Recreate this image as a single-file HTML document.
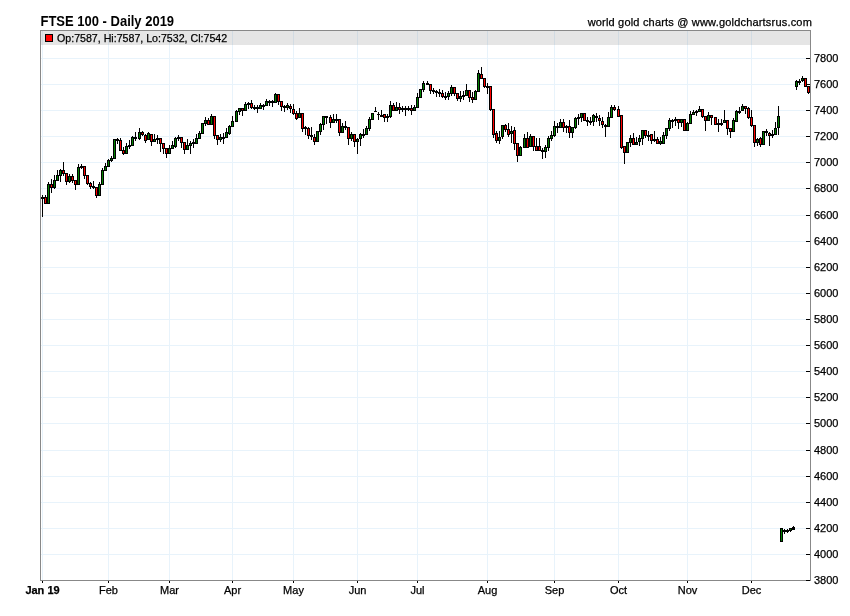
<!DOCTYPE html>
<html><head><meta charset="utf-8"><title>FTSE 100 - Daily 2019</title>
<style>
html,body{margin:0;padding:0;background:#fff;width:850px;height:616px;overflow:hidden}
svg{display:block}
text{font-family:"Liberation Sans",Arial,sans-serif;fill:#000;stroke:#000;stroke-width:0.25px}
.title{font-size:13px;font-weight:bold;stroke-width:0}
.cr{font-size:11px;letter-spacing:0.19px}
.hd{font-size:10.63px}
.ax{font-size:11px}
.axb{font-size:11px;font-weight:bold}
</style></head><body>
<svg width="850" height="616" viewBox="0 0 850 616" shape-rendering="crispEdges"><rect x="42" y="31" width="1" height="549" fill="#e8f3fb"/>
<rect x="108" y="31" width="1" height="549" fill="#e8f3fb"/>
<rect x="169" y="31" width="1" height="549" fill="#e8f3fb"/>
<rect x="232" y="31" width="1" height="549" fill="#e8f3fb"/>
<rect x="293" y="31" width="1" height="549" fill="#e8f3fb"/>
<rect x="357" y="31" width="1" height="549" fill="#e8f3fb"/>
<rect x="417" y="31" width="1" height="549" fill="#e8f3fb"/>
<rect x="487" y="31" width="1" height="549" fill="#e8f3fb"/>
<rect x="554" y="31" width="1" height="549" fill="#e8f3fb"/>
<rect x="618" y="31" width="1" height="549" fill="#e8f3fb"/>
<rect x="687" y="31" width="1" height="549" fill="#e8f3fb"/>
<rect x="751" y="31" width="1" height="549" fill="#e8f3fb"/>
<rect x="41" y="31" width="769" height="14" fill="#808080" fill-opacity="0.205"/>
<rect x="41" y="554" width="765" height="1" fill="#e8f3fb"/>
<rect x="41" y="528" width="765" height="1" fill="#e8f3fb"/>
<rect x="41" y="502" width="765" height="1" fill="#e8f3fb"/>
<rect x="41" y="476" width="765" height="1" fill="#e8f3fb"/>
<rect x="41" y="450" width="765" height="1" fill="#e8f3fb"/>
<rect x="41" y="423" width="765" height="1" fill="#e8f3fb"/>
<rect x="41" y="397" width="765" height="1" fill="#e8f3fb"/>
<rect x="41" y="371" width="765" height="1" fill="#e8f3fb"/>
<rect x="41" y="345" width="765" height="1" fill="#e8f3fb"/>
<rect x="41" y="319" width="765" height="1" fill="#e8f3fb"/>
<rect x="41" y="293" width="765" height="1" fill="#e8f3fb"/>
<rect x="41" y="267" width="765" height="1" fill="#e8f3fb"/>
<rect x="41" y="241" width="765" height="1" fill="#e8f3fb"/>
<rect x="41" y="215" width="765" height="1" fill="#e8f3fb"/>
<rect x="41" y="188" width="765" height="1" fill="#e8f3fb"/>
<rect x="41" y="162" width="765" height="1" fill="#e8f3fb"/>
<rect x="41" y="136" width="765" height="1" fill="#e8f3fb"/>
<rect x="41" y="110" width="765" height="1" fill="#e8f3fb"/>
<rect x="41" y="84" width="765" height="1" fill="#e8f3fb"/>
<rect x="41" y="58" width="765" height="1" fill="#e8f3fb"/>
<rect x="42" y="195" width="1" height="22" fill="#000"/>
<rect x="41" y="197" width="3" height="2" fill="#000"/>
<rect x="45" y="195" width="1" height="9" fill="#000"/>
<rect x="44" y="197" width="3" height="7" fill="#000"/>
<rect x="45" y="198" width="1" height="5" fill="#ff0000"/>
<rect x="48" y="182" width="1" height="22" fill="#000"/>
<rect x="47" y="184" width="3" height="20" fill="#000"/>
<rect x="48" y="185" width="1" height="18" fill="#008000"/>
<rect x="51" y="179" width="1" height="14" fill="#000"/>
<rect x="50" y="184" width="3" height="4" fill="#000"/>
<rect x="51" y="185" width="1" height="2" fill="#ff0000"/>
<rect x="54" y="175" width="1" height="14" fill="#000"/>
<rect x="53" y="180" width="3" height="8" fill="#000"/>
<rect x="54" y="181" width="1" height="6" fill="#008000"/>
<rect x="57" y="170" width="1" height="11" fill="#000"/>
<rect x="56" y="175" width="3" height="6" fill="#000"/>
<rect x="57" y="176" width="1" height="4" fill="#008000"/>
<rect x="60" y="169" width="1" height="13" fill="#000"/>
<rect x="59" y="170" width="3" height="6" fill="#000"/>
<rect x="60" y="171" width="1" height="4" fill="#008000"/>
<rect x="63" y="162" width="1" height="14" fill="#000"/>
<rect x="62" y="170" width="3" height="4" fill="#000"/>
<rect x="63" y="171" width="1" height="2" fill="#ff0000"/>
<rect x="66" y="173" width="1" height="12" fill="#000"/>
<rect x="65" y="173" width="3" height="9" fill="#000"/>
<rect x="66" y="174" width="1" height="7" fill="#ff0000"/>
<rect x="69" y="174" width="1" height="9" fill="#000"/>
<rect x="68" y="176" width="3" height="6" fill="#000"/>
<rect x="69" y="177" width="1" height="4" fill="#008000"/>
<rect x="72" y="174" width="1" height="9" fill="#000"/>
<rect x="71" y="176" width="3" height="5" fill="#000"/>
<rect x="72" y="177" width="1" height="3" fill="#ff0000"/>
<rect x="75" y="180" width="1" height="10" fill="#000"/>
<rect x="74" y="180" width="3" height="5" fill="#000"/>
<rect x="75" y="181" width="1" height="3" fill="#ff0000"/>
<rect x="78" y="164" width="1" height="21" fill="#000"/>
<rect x="77" y="167" width="3" height="18" fill="#000"/>
<rect x="78" y="168" width="1" height="16" fill="#008000"/>
<rect x="81" y="164" width="1" height="5" fill="#000"/>
<rect x="80" y="166" width="3" height="2" fill="#000"/>
<rect x="84" y="166" width="1" height="13" fill="#000"/>
<rect x="83" y="166" width="3" height="10" fill="#000"/>
<rect x="84" y="167" width="1" height="8" fill="#ff0000"/>
<rect x="87" y="175" width="1" height="10" fill="#000"/>
<rect x="86" y="175" width="3" height="9" fill="#000"/>
<rect x="87" y="176" width="1" height="7" fill="#ff0000"/>
<rect x="90" y="182" width="1" height="7" fill="#000"/>
<rect x="89" y="183" width="3" height="4" fill="#000"/>
<rect x="90" y="184" width="1" height="2" fill="#ff0000"/>
<rect x="93" y="181" width="1" height="8" fill="#000"/>
<rect x="92" y="186" width="3" height="2" fill="#000"/>
<rect x="96" y="187" width="1" height="11" fill="#000"/>
<rect x="95" y="187" width="3" height="9" fill="#000"/>
<rect x="96" y="188" width="1" height="7" fill="#ff0000"/>
<rect x="99" y="182" width="1" height="14" fill="#000"/>
<rect x="98" y="184" width="3" height="12" fill="#000"/>
<rect x="99" y="185" width="1" height="10" fill="#008000"/>
<rect x="102" y="168" width="1" height="17" fill="#000"/>
<rect x="101" y="170" width="3" height="15" fill="#000"/>
<rect x="102" y="171" width="1" height="13" fill="#008000"/>
<rect x="105" y="163" width="1" height="8" fill="#000"/>
<rect x="104" y="166" width="3" height="5" fill="#000"/>
<rect x="105" y="167" width="1" height="3" fill="#008000"/>
<rect x="108" y="159" width="1" height="8" fill="#000"/>
<rect x="107" y="160" width="3" height="7" fill="#000"/>
<rect x="108" y="161" width="1" height="5" fill="#008000"/>
<rect x="111" y="156" width="1" height="6" fill="#000"/>
<rect x="110" y="158" width="3" height="3" fill="#000"/>
<rect x="111" y="159" width="1" height="1" fill="#008000"/>
<rect x="114" y="139" width="1" height="20" fill="#000"/>
<rect x="113" y="139" width="3" height="20" fill="#000"/>
<rect x="114" y="140" width="1" height="18" fill="#008000"/>
<rect x="117" y="138" width="1" height="6" fill="#000"/>
<rect x="116" y="139" width="3" height="2" fill="#000"/>
<rect x="120" y="138" width="1" height="13" fill="#000"/>
<rect x="119" y="140" width="3" height="11" fill="#000"/>
<rect x="120" y="141" width="1" height="9" fill="#ff0000"/>
<rect x="123" y="147" width="1" height="8" fill="#000"/>
<rect x="122" y="150" width="3" height="4" fill="#000"/>
<rect x="123" y="151" width="1" height="2" fill="#ff0000"/>
<rect x="126" y="143" width="1" height="11" fill="#000"/>
<rect x="125" y="146" width="3" height="8" fill="#000"/>
<rect x="126" y="147" width="1" height="6" fill="#008000"/>
<rect x="129" y="140" width="1" height="9" fill="#000"/>
<rect x="128" y="145" width="3" height="2" fill="#000"/>
<rect x="132" y="136" width="1" height="10" fill="#000"/>
<rect x="131" y="137" width="3" height="9" fill="#000"/>
<rect x="132" y="138" width="1" height="7" fill="#008000"/>
<rect x="135" y="132" width="1" height="9" fill="#000"/>
<rect x="134" y="137" width="3" height="2" fill="#000"/>
<rect x="139" y="128" width="1" height="12" fill="#000"/>
<rect x="138" y="132" width="3" height="7" fill="#000"/>
<rect x="139" y="133" width="1" height="5" fill="#008000"/>
<rect x="142" y="131" width="1" height="5" fill="#000"/>
<rect x="141" y="132" width="3" height="3" fill="#000"/>
<rect x="142" y="133" width="1" height="1" fill="#ff0000"/>
<rect x="145" y="134" width="1" height="9" fill="#000"/>
<rect x="144" y="135" width="3" height="6" fill="#000"/>
<rect x="145" y="136" width="1" height="4" fill="#ff0000"/>
<rect x="148" y="132" width="1" height="8" fill="#000"/>
<rect x="147" y="133" width="3" height="7" fill="#000"/>
<rect x="148" y="134" width="1" height="5" fill="#008000"/>
<rect x="151" y="134" width="1" height="12" fill="#000"/>
<rect x="150" y="134" width="3" height="8" fill="#000"/>
<rect x="151" y="135" width="1" height="6" fill="#ff0000"/>
<rect x="154" y="134" width="1" height="8" fill="#000"/>
<rect x="153" y="139" width="3" height="3" fill="#000"/>
<rect x="154" y="140" width="1" height="1" fill="#008000"/>
<rect x="157" y="135" width="1" height="9" fill="#000"/>
<rect x="156" y="138" width="3" height="2" fill="#000"/>
<rect x="160" y="138" width="1" height="14" fill="#000"/>
<rect x="159" y="138" width="3" height="6" fill="#000"/>
<rect x="160" y="139" width="1" height="4" fill="#ff0000"/>
<rect x="163" y="143" width="1" height="11" fill="#000"/>
<rect x="162" y="143" width="3" height="6" fill="#000"/>
<rect x="163" y="144" width="1" height="4" fill="#ff0000"/>
<rect x="166" y="148" width="1" height="10" fill="#000"/>
<rect x="165" y="148" width="3" height="6" fill="#000"/>
<rect x="166" y="149" width="1" height="4" fill="#ff0000"/>
<rect x="169" y="145" width="1" height="9" fill="#000"/>
<rect x="168" y="148" width="3" height="6" fill="#000"/>
<rect x="169" y="149" width="1" height="4" fill="#008000"/>
<rect x="172" y="141" width="1" height="8" fill="#000"/>
<rect x="171" y="145" width="3" height="4" fill="#000"/>
<rect x="172" y="146" width="1" height="2" fill="#008000"/>
<rect x="175" y="137" width="1" height="11" fill="#000"/>
<rect x="174" y="138" width="3" height="9" fill="#000"/>
<rect x="175" y="139" width="1" height="7" fill="#008000"/>
<rect x="178" y="135" width="1" height="6" fill="#000"/>
<rect x="177" y="137" width="3" height="2" fill="#000"/>
<rect x="181" y="137" width="1" height="11" fill="#000"/>
<rect x="180" y="137" width="3" height="6" fill="#000"/>
<rect x="181" y="138" width="1" height="4" fill="#ff0000"/>
<rect x="184" y="142" width="1" height="12" fill="#000"/>
<rect x="183" y="142" width="3" height="8" fill="#000"/>
<rect x="184" y="143" width="1" height="6" fill="#ff0000"/>
<rect x="187" y="139" width="1" height="11" fill="#000"/>
<rect x="186" y="145" width="3" height="5" fill="#000"/>
<rect x="187" y="146" width="1" height="3" fill="#008000"/>
<rect x="190" y="141" width="1" height="13" fill="#000"/>
<rect x="189" y="143" width="3" height="3" fill="#000"/>
<rect x="190" y="144" width="1" height="1" fill="#008000"/>
<rect x="193" y="139" width="1" height="9" fill="#000"/>
<rect x="192" y="142" width="3" height="2" fill="#000"/>
<rect x="196" y="134" width="1" height="10" fill="#000"/>
<rect x="195" y="138" width="3" height="6" fill="#000"/>
<rect x="196" y="139" width="1" height="4" fill="#008000"/>
<rect x="199" y="131" width="1" height="8" fill="#000"/>
<rect x="198" y="133" width="3" height="6" fill="#000"/>
<rect x="199" y="134" width="1" height="4" fill="#008000"/>
<rect x="202" y="123" width="1" height="11" fill="#000"/>
<rect x="201" y="123" width="3" height="11" fill="#000"/>
<rect x="202" y="124" width="1" height="9" fill="#008000"/>
<rect x="205" y="117" width="1" height="9" fill="#000"/>
<rect x="204" y="120" width="3" height="4" fill="#000"/>
<rect x="205" y="121" width="1" height="2" fill="#008000"/>
<rect x="208" y="118" width="1" height="7" fill="#000"/>
<rect x="207" y="120" width="3" height="5" fill="#000"/>
<rect x="208" y="121" width="1" height="3" fill="#ff0000"/>
<rect x="211" y="114" width="1" height="11" fill="#000"/>
<rect x="210" y="116" width="3" height="9" fill="#000"/>
<rect x="211" y="117" width="1" height="7" fill="#008000"/>
<rect x="214" y="116" width="1" height="23" fill="#000"/>
<rect x="213" y="116" width="3" height="20" fill="#000"/>
<rect x="214" y="117" width="1" height="18" fill="#ff0000"/>
<rect x="217" y="135" width="1" height="10" fill="#000"/>
<rect x="216" y="135" width="3" height="5" fill="#000"/>
<rect x="217" y="136" width="1" height="3" fill="#ff0000"/>
<rect x="220" y="134" width="1" height="8" fill="#000"/>
<rect x="219" y="137" width="3" height="3" fill="#000"/>
<rect x="220" y="138" width="1" height="1" fill="#008000"/>
<rect x="223" y="133" width="1" height="11" fill="#000"/>
<rect x="222" y="137" width="3" height="2" fill="#000"/>
<rect x="226" y="128" width="1" height="10" fill="#000"/>
<rect x="225" y="132" width="3" height="6" fill="#000"/>
<rect x="226" y="133" width="1" height="4" fill="#008000"/>
<rect x="229" y="125" width="1" height="10" fill="#000"/>
<rect x="228" y="126" width="3" height="8" fill="#000"/>
<rect x="229" y="127" width="1" height="6" fill="#008000"/>
<rect x="232" y="116" width="1" height="11" fill="#000"/>
<rect x="231" y="121" width="3" height="6" fill="#000"/>
<rect x="232" y="122" width="1" height="4" fill="#008000"/>
<rect x="236" y="110" width="1" height="12" fill="#000"/>
<rect x="235" y="111" width="3" height="11" fill="#000"/>
<rect x="236" y="112" width="1" height="9" fill="#008000"/>
<rect x="239" y="108" width="1" height="7" fill="#000"/>
<rect x="238" y="108" width="3" height="4" fill="#000"/>
<rect x="239" y="109" width="1" height="2" fill="#008000"/>
<rect x="242" y="108" width="1" height="8" fill="#000"/>
<rect x="241" y="108" width="3" height="3" fill="#000"/>
<rect x="242" y="109" width="1" height="1" fill="#ff0000"/>
<rect x="245" y="102" width="1" height="9" fill="#000"/>
<rect x="244" y="104" width="3" height="7" fill="#000"/>
<rect x="245" y="105" width="1" height="5" fill="#008000"/>
<rect x="248" y="102" width="1" height="7" fill="#000"/>
<rect x="247" y="103" width="3" height="2" fill="#000"/>
<rect x="251" y="100" width="1" height="9" fill="#000"/>
<rect x="250" y="103" width="3" height="5" fill="#000"/>
<rect x="251" y="104" width="1" height="3" fill="#ff0000"/>
<rect x="254" y="105" width="1" height="5" fill="#000"/>
<rect x="253" y="107" width="3" height="2" fill="#000"/>
<rect x="257" y="105" width="1" height="8" fill="#000"/>
<rect x="256" y="107" width="3" height="2" fill="#000"/>
<rect x="260" y="103" width="1" height="6" fill="#000"/>
<rect x="259" y="105" width="3" height="4" fill="#000"/>
<rect x="260" y="106" width="1" height="2" fill="#008000"/>
<rect x="263" y="104" width="1" height="6" fill="#000"/>
<rect x="262" y="105" width="3" height="2" fill="#000"/>
<rect x="266" y="99" width="1" height="7" fill="#000"/>
<rect x="265" y="101" width="3" height="5" fill="#000"/>
<rect x="266" y="102" width="1" height="3" fill="#008000"/>
<rect x="269" y="100" width="1" height="6" fill="#000"/>
<rect x="268" y="101" width="3" height="2" fill="#000"/>
<rect x="272" y="100" width="1" height="7" fill="#000"/>
<rect x="271" y="101" width="3" height="2" fill="#000"/>
<rect x="275" y="93" width="1" height="10" fill="#000"/>
<rect x="274" y="94" width="3" height="9" fill="#000"/>
<rect x="275" y="95" width="1" height="7" fill="#008000"/>
<rect x="278" y="94" width="1" height="11" fill="#000"/>
<rect x="277" y="94" width="3" height="8" fill="#000"/>
<rect x="278" y="95" width="1" height="6" fill="#ff0000"/>
<rect x="281" y="101" width="1" height="10" fill="#000"/>
<rect x="280" y="101" width="3" height="6" fill="#000"/>
<rect x="281" y="102" width="1" height="4" fill="#ff0000"/>
<rect x="284" y="105" width="1" height="7" fill="#000"/>
<rect x="283" y="106" width="3" height="2" fill="#000"/>
<rect x="287" y="103" width="1" height="7" fill="#000"/>
<rect x="286" y="105" width="3" height="3" fill="#000"/>
<rect x="287" y="106" width="1" height="1" fill="#008000"/>
<rect x="290" y="104" width="1" height="9" fill="#000"/>
<rect x="289" y="106" width="3" height="3" fill="#000"/>
<rect x="290" y="107" width="1" height="1" fill="#ff0000"/>
<rect x="293" y="104" width="1" height="11" fill="#000"/>
<rect x="292" y="109" width="3" height="5" fill="#000"/>
<rect x="293" y="110" width="1" height="3" fill="#ff0000"/>
<rect x="296" y="111" width="1" height="9" fill="#000"/>
<rect x="295" y="113" width="3" height="6" fill="#000"/>
<rect x="296" y="114" width="1" height="4" fill="#ff0000"/>
<rect x="299" y="108" width="1" height="10" fill="#000"/>
<rect x="298" y="113" width="3" height="5" fill="#000"/>
<rect x="299" y="114" width="1" height="3" fill="#008000"/>
<rect x="302" y="113" width="1" height="19" fill="#000"/>
<rect x="301" y="113" width="3" height="16" fill="#000"/>
<rect x="302" y="114" width="1" height="14" fill="#ff0000"/>
<rect x="305" y="126" width="1" height="9" fill="#000"/>
<rect x="304" y="127" width="3" height="2" fill="#000"/>
<rect x="308" y="127" width="1" height="12" fill="#000"/>
<rect x="307" y="128" width="3" height="8" fill="#000"/>
<rect x="308" y="129" width="1" height="6" fill="#ff0000"/>
<rect x="311" y="127" width="1" height="13" fill="#000"/>
<rect x="310" y="135" width="3" height="2" fill="#000"/>
<rect x="314" y="134" width="1" height="11" fill="#000"/>
<rect x="313" y="137" width="3" height="5" fill="#000"/>
<rect x="314" y="138" width="1" height="3" fill="#ff0000"/>
<rect x="317" y="131" width="1" height="11" fill="#000"/>
<rect x="316" y="131" width="3" height="11" fill="#000"/>
<rect x="317" y="132" width="1" height="9" fill="#008000"/>
<rect x="320" y="123" width="1" height="12" fill="#000"/>
<rect x="319" y="124" width="3" height="8" fill="#000"/>
<rect x="320" y="125" width="1" height="6" fill="#008000"/>
<rect x="323" y="116" width="1" height="14" fill="#000"/>
<rect x="322" y="116" width="3" height="9" fill="#000"/>
<rect x="323" y="117" width="1" height="7" fill="#008000"/>
<rect x="326" y="116" width="1" height="8" fill="#000"/>
<rect x="325" y="116" width="3" height="2" fill="#000"/>
<rect x="330" y="115" width="1" height="13" fill="#000"/>
<rect x="329" y="117" width="3" height="6" fill="#000"/>
<rect x="330" y="118" width="1" height="4" fill="#ff0000"/>
<rect x="333" y="114" width="1" height="9" fill="#000"/>
<rect x="332" y="119" width="3" height="4" fill="#000"/>
<rect x="333" y="120" width="1" height="2" fill="#008000"/>
<rect x="336" y="114" width="1" height="9" fill="#000"/>
<rect x="335" y="119" width="3" height="2" fill="#000"/>
<rect x="339" y="119" width="1" height="17" fill="#000"/>
<rect x="338" y="119" width="3" height="14" fill="#000"/>
<rect x="339" y="120" width="1" height="12" fill="#ff0000"/>
<rect x="342" y="123" width="1" height="10" fill="#000"/>
<rect x="341" y="126" width="3" height="7" fill="#000"/>
<rect x="342" y="127" width="1" height="5" fill="#008000"/>
<rect x="345" y="121" width="1" height="9" fill="#000"/>
<rect x="344" y="126" width="3" height="2" fill="#000"/>
<rect x="348" y="127" width="1" height="18" fill="#000"/>
<rect x="347" y="127" width="3" height="12" fill="#000"/>
<rect x="348" y="128" width="1" height="10" fill="#ff0000"/>
<rect x="351" y="132" width="1" height="9" fill="#000"/>
<rect x="350" y="134" width="3" height="5" fill="#000"/>
<rect x="351" y="135" width="1" height="3" fill="#008000"/>
<rect x="354" y="134" width="1" height="13" fill="#000"/>
<rect x="353" y="134" width="3" height="8" fill="#000"/>
<rect x="354" y="135" width="1" height="6" fill="#ff0000"/>
<rect x="357" y="138" width="1" height="16" fill="#000"/>
<rect x="356" y="139" width="3" height="3" fill="#000"/>
<rect x="357" y="140" width="1" height="1" fill="#008000"/>
<rect x="360" y="133" width="1" height="13" fill="#000"/>
<rect x="359" y="134" width="3" height="5" fill="#000"/>
<rect x="360" y="135" width="1" height="3" fill="#008000"/>
<rect x="363" y="129" width="1" height="9" fill="#000"/>
<rect x="362" y="134" width="3" height="2" fill="#000"/>
<rect x="366" y="126" width="1" height="9" fill="#000"/>
<rect x="365" y="128" width="3" height="7" fill="#000"/>
<rect x="366" y="129" width="1" height="5" fill="#008000"/>
<rect x="369" y="117" width="1" height="14" fill="#000"/>
<rect x="368" y="119" width="3" height="10" fill="#000"/>
<rect x="369" y="120" width="1" height="8" fill="#008000"/>
<rect x="372" y="113" width="1" height="7" fill="#000"/>
<rect x="371" y="113" width="3" height="7" fill="#000"/>
<rect x="372" y="114" width="1" height="5" fill="#008000"/>
<rect x="375" y="107" width="1" height="5" fill="#000"/>
<rect x="374" y="111" width="3" height="1" fill="#000"/>
<rect x="378" y="112" width="1" height="8" fill="#000"/>
<rect x="377" y="114" width="3" height="1" fill="#000"/>
<rect x="381" y="110" width="1" height="7" fill="#000"/>
<rect x="380" y="115" width="3" height="2" fill="#000"/>
<rect x="384" y="114" width="1" height="8" fill="#000"/>
<rect x="383" y="114" width="3" height="4" fill="#000"/>
<rect x="384" y="115" width="1" height="2" fill="#ff0000"/>
<rect x="387" y="114" width="1" height="8" fill="#000"/>
<rect x="386" y="116" width="3" height="2" fill="#000"/>
<rect x="390" y="101" width="1" height="17" fill="#000"/>
<rect x="389" y="105" width="3" height="12" fill="#000"/>
<rect x="390" y="106" width="1" height="10" fill="#008000"/>
<rect x="393" y="103" width="1" height="8" fill="#000"/>
<rect x="392" y="105" width="3" height="6" fill="#000"/>
<rect x="393" y="106" width="1" height="4" fill="#ff0000"/>
<rect x="396" y="102" width="1" height="9" fill="#000"/>
<rect x="395" y="107" width="3" height="4" fill="#000"/>
<rect x="396" y="108" width="1" height="2" fill="#008000"/>
<rect x="399" y="103" width="1" height="11" fill="#000"/>
<rect x="398" y="107" width="3" height="3" fill="#000"/>
<rect x="399" y="108" width="1" height="1" fill="#ff0000"/>
<rect x="402" y="106" width="1" height="6" fill="#000"/>
<rect x="401" y="108" width="3" height="2" fill="#000"/>
<rect x="405" y="106" width="1" height="10" fill="#000"/>
<rect x="404" y="108" width="3" height="2" fill="#000"/>
<rect x="408" y="106" width="1" height="5" fill="#000"/>
<rect x="407" y="108" width="3" height="2" fill="#000"/>
<rect x="411" y="105" width="1" height="10" fill="#000"/>
<rect x="410" y="108" width="3" height="3" fill="#000"/>
<rect x="411" y="109" width="1" height="1" fill="#ff0000"/>
<rect x="414" y="105" width="1" height="6" fill="#000"/>
<rect x="413" y="107" width="3" height="4" fill="#000"/>
<rect x="414" y="108" width="1" height="2" fill="#008000"/>
<rect x="417" y="93" width="1" height="15" fill="#000"/>
<rect x="416" y="97" width="3" height="11" fill="#000"/>
<rect x="417" y="98" width="1" height="9" fill="#008000"/>
<rect x="420" y="89" width="1" height="9" fill="#000"/>
<rect x="419" y="89" width="3" height="9" fill="#000"/>
<rect x="420" y="90" width="1" height="7" fill="#008000"/>
<rect x="423" y="81" width="1" height="11" fill="#000"/>
<rect x="422" y="83" width="3" height="7" fill="#000"/>
<rect x="423" y="84" width="1" height="5" fill="#008000"/>
<rect x="427" y="81" width="1" height="4" fill="#000"/>
<rect x="426" y="83" width="3" height="2" fill="#000"/>
<rect x="430" y="84" width="1" height="10" fill="#000"/>
<rect x="429" y="84" width="3" height="7" fill="#000"/>
<rect x="430" y="85" width="1" height="5" fill="#ff0000"/>
<rect x="433" y="88" width="1" height="6" fill="#000"/>
<rect x="432" y="90" width="3" height="2" fill="#000"/>
<rect x="436" y="90" width="1" height="7" fill="#000"/>
<rect x="435" y="91" width="3" height="2" fill="#000"/>
<rect x="439" y="89" width="1" height="8" fill="#000"/>
<rect x="438" y="92" width="3" height="2" fill="#000"/>
<rect x="442" y="90" width="1" height="8" fill="#000"/>
<rect x="441" y="93" width="3" height="4" fill="#000"/>
<rect x="442" y="94" width="1" height="2" fill="#ff0000"/>
<rect x="445" y="92" width="1" height="8" fill="#000"/>
<rect x="444" y="96" width="3" height="2" fill="#000"/>
<rect x="448" y="91" width="1" height="9" fill="#000"/>
<rect x="447" y="93" width="3" height="4" fill="#000"/>
<rect x="448" y="94" width="1" height="2" fill="#008000"/>
<rect x="451" y="85" width="1" height="11" fill="#000"/>
<rect x="450" y="87" width="3" height="7" fill="#000"/>
<rect x="451" y="88" width="1" height="5" fill="#008000"/>
<rect x="454" y="87" width="1" height="9" fill="#000"/>
<rect x="453" y="87" width="3" height="7" fill="#000"/>
<rect x="454" y="88" width="1" height="5" fill="#ff0000"/>
<rect x="457" y="93" width="1" height="8" fill="#000"/>
<rect x="456" y="93" width="3" height="6" fill="#000"/>
<rect x="457" y="94" width="1" height="4" fill="#ff0000"/>
<rect x="460" y="91" width="1" height="11" fill="#000"/>
<rect x="459" y="96" width="3" height="3" fill="#000"/>
<rect x="460" y="97" width="1" height="1" fill="#008000"/>
<rect x="463" y="91" width="1" height="9" fill="#000"/>
<rect x="462" y="95" width="3" height="2" fill="#000"/>
<rect x="466" y="84" width="1" height="12" fill="#000"/>
<rect x="465" y="90" width="3" height="6" fill="#000"/>
<rect x="466" y="91" width="1" height="4" fill="#008000"/>
<rect x="469" y="90" width="1" height="12" fill="#000"/>
<rect x="468" y="90" width="3" height="8" fill="#000"/>
<rect x="469" y="91" width="1" height="6" fill="#ff0000"/>
<rect x="472" y="92" width="1" height="11" fill="#000"/>
<rect x="471" y="97" width="3" height="3" fill="#000"/>
<rect x="472" y="98" width="1" height="1" fill="#ff0000"/>
<rect x="475" y="90" width="1" height="10" fill="#000"/>
<rect x="474" y="91" width="3" height="9" fill="#000"/>
<rect x="475" y="92" width="1" height="7" fill="#008000"/>
<rect x="478" y="70" width="1" height="22" fill="#000"/>
<rect x="477" y="73" width="3" height="19" fill="#000"/>
<rect x="478" y="74" width="1" height="17" fill="#008000"/>
<rect x="481" y="67" width="1" height="12" fill="#000"/>
<rect x="480" y="74" width="3" height="5" fill="#000"/>
<rect x="481" y="75" width="1" height="3" fill="#ff0000"/>
<rect x="484" y="78" width="1" height="10" fill="#000"/>
<rect x="483" y="78" width="3" height="9" fill="#000"/>
<rect x="484" y="79" width="1" height="7" fill="#ff0000"/>
<rect x="487" y="83" width="1" height="11" fill="#000"/>
<rect x="486" y="86" width="3" height="2" fill="#000"/>
<rect x="490" y="86" width="1" height="25" fill="#000"/>
<rect x="489" y="86" width="3" height="24" fill="#000"/>
<rect x="490" y="87" width="1" height="22" fill="#ff0000"/>
<rect x="493" y="109" width="1" height="29" fill="#000"/>
<rect x="492" y="109" width="3" height="26" fill="#000"/>
<rect x="493" y="110" width="1" height="24" fill="#ff0000"/>
<rect x="496" y="131" width="1" height="12" fill="#000"/>
<rect x="495" y="133" width="3" height="8" fill="#000"/>
<rect x="496" y="134" width="1" height="6" fill="#ff0000"/>
<rect x="499" y="131" width="1" height="13" fill="#000"/>
<rect x="498" y="137" width="3" height="4" fill="#000"/>
<rect x="499" y="138" width="1" height="2" fill="#008000"/>
<rect x="502" y="125" width="1" height="14" fill="#000"/>
<rect x="501" y="125" width="3" height="12" fill="#000"/>
<rect x="502" y="126" width="1" height="10" fill="#008000"/>
<rect x="505" y="124" width="1" height="8" fill="#000"/>
<rect x="504" y="125" width="3" height="5" fill="#000"/>
<rect x="505" y="126" width="1" height="3" fill="#ff0000"/>
<rect x="508" y="123" width="1" height="14" fill="#000"/>
<rect x="507" y="129" width="3" height="6" fill="#000"/>
<rect x="508" y="130" width="1" height="4" fill="#ff0000"/>
<rect x="511" y="126" width="1" height="17" fill="#000"/>
<rect x="510" y="131" width="3" height="3" fill="#000"/>
<rect x="511" y="132" width="1" height="1" fill="#008000"/>
<rect x="514" y="127" width="1" height="23" fill="#000"/>
<rect x="513" y="130" width="3" height="14" fill="#000"/>
<rect x="514" y="131" width="1" height="12" fill="#ff0000"/>
<rect x="517" y="143" width="1" height="19" fill="#000"/>
<rect x="516" y="143" width="3" height="13" fill="#000"/>
<rect x="517" y="144" width="1" height="11" fill="#ff0000"/>
<rect x="520" y="146" width="1" height="10" fill="#000"/>
<rect x="519" y="147" width="3" height="9" fill="#000"/>
<rect x="520" y="148" width="1" height="7" fill="#008000"/>
<rect x="524" y="134" width="1" height="14" fill="#000"/>
<rect x="523" y="138" width="3" height="10" fill="#000"/>
<rect x="524" y="139" width="1" height="8" fill="#008000"/>
<rect x="527" y="132" width="1" height="16" fill="#000"/>
<rect x="526" y="138" width="3" height="10" fill="#000"/>
<rect x="527" y="139" width="1" height="8" fill="#ff0000"/>
<rect x="530" y="134" width="1" height="13" fill="#000"/>
<rect x="529" y="136" width="3" height="11" fill="#000"/>
<rect x="530" y="137" width="1" height="9" fill="#008000"/>
<rect x="533" y="136" width="1" height="15" fill="#000"/>
<rect x="532" y="136" width="3" height="11" fill="#000"/>
<rect x="533" y="137" width="1" height="9" fill="#ff0000"/>
<rect x="536" y="138" width="1" height="13" fill="#000"/>
<rect x="535" y="146" width="3" height="5" fill="#000"/>
<rect x="536" y="147" width="1" height="3" fill="#ff0000"/>
<rect x="539" y="138" width="1" height="13" fill="#000"/>
<rect x="538" y="146" width="3" height="5" fill="#000"/>
<rect x="539" y="147" width="1" height="3" fill="#ff0000"/>
<rect x="542" y="148" width="1" height="11" fill="#000"/>
<rect x="541" y="150" width="3" height="2" fill="#000"/>
<rect x="545" y="145" width="1" height="13" fill="#000"/>
<rect x="544" y="147" width="3" height="5" fill="#000"/>
<rect x="545" y="148" width="1" height="3" fill="#008000"/>
<rect x="548" y="136" width="1" height="15" fill="#000"/>
<rect x="547" y="138" width="3" height="10" fill="#000"/>
<rect x="548" y="139" width="1" height="8" fill="#008000"/>
<rect x="551" y="131" width="1" height="10" fill="#000"/>
<rect x="550" y="135" width="3" height="4" fill="#000"/>
<rect x="551" y="136" width="1" height="2" fill="#008000"/>
<rect x="554" y="121" width="1" height="16" fill="#000"/>
<rect x="553" y="126" width="3" height="10" fill="#000"/>
<rect x="554" y="127" width="1" height="8" fill="#008000"/>
<rect x="557" y="123" width="1" height="10" fill="#000"/>
<rect x="556" y="126" width="3" height="2" fill="#000"/>
<rect x="560" y="119" width="1" height="9" fill="#000"/>
<rect x="559" y="122" width="3" height="6" fill="#000"/>
<rect x="560" y="123" width="1" height="4" fill="#008000"/>
<rect x="563" y="119" width="1" height="13" fill="#000"/>
<rect x="562" y="122" width="3" height="6" fill="#000"/>
<rect x="563" y="123" width="1" height="4" fill="#ff0000"/>
<rect x="566" y="125" width="1" height="8" fill="#000"/>
<rect x="565" y="126" width="3" height="2" fill="#000"/>
<rect x="569" y="120" width="1" height="18" fill="#000"/>
<rect x="568" y="126" width="3" height="7" fill="#000"/>
<rect x="569" y="127" width="1" height="5" fill="#ff0000"/>
<rect x="572" y="127" width="1" height="11" fill="#000"/>
<rect x="571" y="127" width="3" height="6" fill="#000"/>
<rect x="572" y="128" width="1" height="4" fill="#008000"/>
<rect x="575" y="117" width="1" height="12" fill="#000"/>
<rect x="574" y="118" width="3" height="10" fill="#000"/>
<rect x="575" y="119" width="1" height="8" fill="#008000"/>
<rect x="578" y="114" width="1" height="11" fill="#000"/>
<rect x="577" y="117" width="3" height="2" fill="#000"/>
<rect x="581" y="113" width="1" height="9" fill="#000"/>
<rect x="580" y="113" width="3" height="5" fill="#000"/>
<rect x="581" y="114" width="1" height="3" fill="#008000"/>
<rect x="584" y="113" width="1" height="8" fill="#000"/>
<rect x="583" y="113" width="3" height="8" fill="#000"/>
<rect x="584" y="114" width="1" height="6" fill="#ff0000"/>
<rect x="587" y="117" width="1" height="9" fill="#000"/>
<rect x="586" y="120" width="3" height="2" fill="#000"/>
<rect x="590" y="117" width="1" height="8" fill="#000"/>
<rect x="589" y="121" width="3" height="2" fill="#000"/>
<rect x="593" y="114" width="1" height="12" fill="#000"/>
<rect x="592" y="115" width="3" height="7" fill="#000"/>
<rect x="593" y="116" width="1" height="5" fill="#008000"/>
<rect x="596" y="113" width="1" height="9" fill="#000"/>
<rect x="595" y="116" width="3" height="2" fill="#000"/>
<rect x="599" y="115" width="1" height="11" fill="#000"/>
<rect x="598" y="118" width="3" height="3" fill="#000"/>
<rect x="599" y="119" width="1" height="1" fill="#ff0000"/>
<rect x="602" y="117" width="1" height="11" fill="#000"/>
<rect x="601" y="121" width="3" height="4" fill="#000"/>
<rect x="602" y="122" width="1" height="2" fill="#ff0000"/>
<rect x="605" y="124" width="1" height="13" fill="#000"/>
<rect x="604" y="125" width="3" height="2" fill="#000"/>
<rect x="608" y="112" width="1" height="15" fill="#000"/>
<rect x="607" y="117" width="3" height="10" fill="#000"/>
<rect x="608" y="118" width="1" height="8" fill="#008000"/>
<rect x="611" y="105" width="1" height="13" fill="#000"/>
<rect x="610" y="107" width="3" height="11" fill="#000"/>
<rect x="611" y="108" width="1" height="9" fill="#008000"/>
<rect x="614" y="105" width="1" height="6" fill="#000"/>
<rect x="613" y="107" width="3" height="3" fill="#000"/>
<rect x="614" y="108" width="1" height="1" fill="#ff0000"/>
<rect x="618" y="106" width="1" height="11" fill="#000"/>
<rect x="617" y="109" width="3" height="8" fill="#000"/>
<rect x="618" y="110" width="1" height="6" fill="#ff0000"/>
<rect x="621" y="115" width="1" height="34" fill="#000"/>
<rect x="620" y="115" width="3" height="33" fill="#000"/>
<rect x="621" y="116" width="1" height="31" fill="#ff0000"/>
<rect x="624" y="146" width="1" height="18" fill="#000"/>
<rect x="623" y="146" width="3" height="7" fill="#000"/>
<rect x="624" y="147" width="1" height="5" fill="#ff0000"/>
<rect x="627" y="142" width="1" height="11" fill="#000"/>
<rect x="626" y="142" width="3" height="11" fill="#000"/>
<rect x="627" y="143" width="1" height="9" fill="#008000"/>
<rect x="630" y="135" width="1" height="12" fill="#000"/>
<rect x="629" y="138" width="3" height="5" fill="#000"/>
<rect x="630" y="139" width="1" height="3" fill="#008000"/>
<rect x="633" y="133" width="1" height="12" fill="#000"/>
<rect x="632" y="138" width="3" height="7" fill="#000"/>
<rect x="633" y="139" width="1" height="5" fill="#ff0000"/>
<rect x="636" y="137" width="1" height="8" fill="#000"/>
<rect x="635" y="142" width="3" height="3" fill="#000"/>
<rect x="636" y="143" width="1" height="1" fill="#008000"/>
<rect x="639" y="135" width="1" height="11" fill="#000"/>
<rect x="638" y="138" width="3" height="4" fill="#000"/>
<rect x="639" y="139" width="1" height="2" fill="#008000"/>
<rect x="642" y="130" width="1" height="15" fill="#000"/>
<rect x="641" y="130" width="3" height="9" fill="#000"/>
<rect x="642" y="131" width="1" height="7" fill="#008000"/>
<rect x="645" y="130" width="1" height="8" fill="#000"/>
<rect x="644" y="130" width="3" height="6" fill="#000"/>
<rect x="645" y="131" width="1" height="4" fill="#ff0000"/>
<rect x="648" y="131" width="1" height="10" fill="#000"/>
<rect x="647" y="135" width="3" height="2" fill="#000"/>
<rect x="651" y="134" width="1" height="10" fill="#000"/>
<rect x="650" y="134" width="3" height="7" fill="#000"/>
<rect x="651" y="135" width="1" height="5" fill="#ff0000"/>
<rect x="654" y="131" width="1" height="11" fill="#000"/>
<rect x="653" y="139" width="3" height="2" fill="#000"/>
<rect x="657" y="137" width="1" height="7" fill="#000"/>
<rect x="656" y="139" width="3" height="5" fill="#000"/>
<rect x="657" y="140" width="1" height="3" fill="#ff0000"/>
<rect x="660" y="137" width="1" height="8" fill="#000"/>
<rect x="659" y="141" width="3" height="3" fill="#000"/>
<rect x="660" y="142" width="1" height="1" fill="#008000"/>
<rect x="663" y="132" width="1" height="12" fill="#000"/>
<rect x="662" y="135" width="3" height="9" fill="#000"/>
<rect x="663" y="136" width="1" height="7" fill="#008000"/>
<rect x="666" y="128" width="1" height="11" fill="#000"/>
<rect x="665" y="128" width="3" height="8" fill="#000"/>
<rect x="666" y="129" width="1" height="6" fill="#008000"/>
<rect x="669" y="118" width="1" height="13" fill="#000"/>
<rect x="668" y="120" width="3" height="9" fill="#000"/>
<rect x="669" y="121" width="1" height="7" fill="#008000"/>
<rect x="672" y="119" width="1" height="9" fill="#000"/>
<rect x="671" y="120" width="3" height="2" fill="#000"/>
<rect x="675" y="117" width="1" height="9" fill="#000"/>
<rect x="674" y="119" width="3" height="2" fill="#000"/>
<rect x="678" y="119" width="1" height="10" fill="#000"/>
<rect x="677" y="119" width="3" height="4" fill="#000"/>
<rect x="678" y="120" width="1" height="2" fill="#ff0000"/>
<rect x="681" y="119" width="1" height="8" fill="#000"/>
<rect x="680" y="119" width="3" height="4" fill="#000"/>
<rect x="681" y="120" width="1" height="2" fill="#008000"/>
<rect x="684" y="119" width="1" height="12" fill="#000"/>
<rect x="683" y="119" width="3" height="12" fill="#000"/>
<rect x="684" y="120" width="1" height="10" fill="#ff0000"/>
<rect x="687" y="122" width="1" height="9" fill="#000"/>
<rect x="686" y="123" width="3" height="8" fill="#000"/>
<rect x="687" y="124" width="1" height="6" fill="#008000"/>
<rect x="690" y="111" width="1" height="13" fill="#000"/>
<rect x="689" y="114" width="3" height="10" fill="#000"/>
<rect x="690" y="115" width="1" height="8" fill="#008000"/>
<rect x="693" y="110" width="1" height="5" fill="#000"/>
<rect x="692" y="112" width="3" height="3" fill="#000"/>
<rect x="693" y="113" width="1" height="1" fill="#008000"/>
<rect x="696" y="110" width="1" height="6" fill="#000"/>
<rect x="695" y="111" width="3" height="2" fill="#000"/>
<rect x="699" y="106" width="1" height="6" fill="#000"/>
<rect x="698" y="109" width="3" height="3" fill="#000"/>
<rect x="699" y="110" width="1" height="1" fill="#008000"/>
<rect x="702" y="109" width="1" height="9" fill="#000"/>
<rect x="701" y="109" width="3" height="8" fill="#000"/>
<rect x="702" y="110" width="1" height="6" fill="#ff0000"/>
<rect x="705" y="116" width="1" height="15" fill="#000"/>
<rect x="704" y="116" width="3" height="5" fill="#000"/>
<rect x="705" y="117" width="1" height="3" fill="#ff0000"/>
<rect x="708" y="112" width="1" height="9" fill="#000"/>
<rect x="707" y="115" width="3" height="6" fill="#000"/>
<rect x="708" y="116" width="1" height="4" fill="#008000"/>
<rect x="711" y="115" width="1" height="10" fill="#000"/>
<rect x="710" y="115" width="3" height="3" fill="#000"/>
<rect x="711" y="116" width="1" height="1" fill="#ff0000"/>
<rect x="715" y="117" width="1" height="8" fill="#000"/>
<rect x="714" y="117" width="3" height="8" fill="#000"/>
<rect x="715" y="118" width="1" height="6" fill="#ff0000"/>
<rect x="718" y="119" width="1" height="13" fill="#000"/>
<rect x="717" y="123" width="3" height="2" fill="#000"/>
<rect x="721" y="119" width="1" height="7" fill="#000"/>
<rect x="720" y="123" width="3" height="2" fill="#000"/>
<rect x="724" y="110" width="1" height="13" fill="#000"/>
<rect x="723" y="120" width="3" height="3" fill="#000"/>
<rect x="724" y="121" width="1" height="1" fill="#008000"/>
<rect x="727" y="120" width="1" height="15" fill="#000"/>
<rect x="726" y="120" width="3" height="9" fill="#000"/>
<rect x="727" y="121" width="1" height="7" fill="#ff0000"/>
<rect x="730" y="128" width="1" height="10" fill="#000"/>
<rect x="729" y="128" width="3" height="4" fill="#000"/>
<rect x="730" y="129" width="1" height="2" fill="#ff0000"/>
<rect x="733" y="118" width="1" height="14" fill="#000"/>
<rect x="732" y="120" width="3" height="12" fill="#000"/>
<rect x="733" y="121" width="1" height="10" fill="#008000"/>
<rect x="736" y="110" width="1" height="12" fill="#000"/>
<rect x="735" y="111" width="3" height="11" fill="#000"/>
<rect x="736" y="112" width="1" height="9" fill="#008000"/>
<rect x="739" y="107" width="1" height="7" fill="#000"/>
<rect x="738" y="111" width="3" height="2" fill="#000"/>
<rect x="742" y="104" width="1" height="7" fill="#000"/>
<rect x="741" y="106" width="3" height="5" fill="#000"/>
<rect x="742" y="107" width="1" height="3" fill="#008000"/>
<rect x="745" y="106" width="1" height="8" fill="#000"/>
<rect x="744" y="106" width="3" height="3" fill="#000"/>
<rect x="745" y="107" width="1" height="1" fill="#ff0000"/>
<rect x="748" y="107" width="1" height="12" fill="#000"/>
<rect x="747" y="108" width="3" height="10" fill="#000"/>
<rect x="748" y="109" width="1" height="8" fill="#ff0000"/>
<rect x="751" y="110" width="1" height="17" fill="#000"/>
<rect x="750" y="117" width="3" height="9" fill="#000"/>
<rect x="751" y="118" width="1" height="7" fill="#ff0000"/>
<rect x="754" y="125" width="1" height="22" fill="#000"/>
<rect x="753" y="125" width="3" height="18" fill="#000"/>
<rect x="754" y="126" width="1" height="16" fill="#ff0000"/>
<rect x="757" y="138" width="1" height="8" fill="#000"/>
<rect x="756" y="139" width="3" height="4" fill="#000"/>
<rect x="757" y="140" width="1" height="2" fill="#008000"/>
<rect x="760" y="137" width="1" height="10" fill="#000"/>
<rect x="759" y="138" width="3" height="7" fill="#000"/>
<rect x="760" y="139" width="1" height="5" fill="#ff0000"/>
<rect x="763" y="131" width="1" height="14" fill="#000"/>
<rect x="762" y="131" width="3" height="14" fill="#000"/>
<rect x="763" y="132" width="1" height="12" fill="#008000"/>
<rect x="766" y="129" width="1" height="7" fill="#000"/>
<rect x="765" y="131" width="3" height="2" fill="#000"/>
<rect x="769" y="132" width="1" height="14" fill="#000"/>
<rect x="768" y="133" width="3" height="3" fill="#000"/>
<rect x="769" y="134" width="1" height="1" fill="#ff0000"/>
<rect x="772" y="130" width="1" height="8" fill="#000"/>
<rect x="771" y="134" width="3" height="2" fill="#000"/>
<rect x="775" y="122" width="1" height="13" fill="#000"/>
<rect x="774" y="128" width="3" height="7" fill="#000"/>
<rect x="775" y="129" width="1" height="5" fill="#008000"/>
<rect x="778" y="106" width="1" height="29" fill="#000"/>
<rect x="777" y="116" width="3" height="12" fill="#000"/>
<rect x="778" y="117" width="1" height="10" fill="#008000"/>
<rect x="781" y="528" width="1" height="14" fill="#000"/>
<rect x="780" y="528" width="3" height="14" fill="#000"/>
<rect x="781" y="529" width="1" height="12" fill="#008000"/>
<rect x="784" y="529" width="1" height="5" fill="#000"/>
<rect x="783" y="530" width="3" height="2" fill="#000"/>
<rect x="787" y="529" width="1" height="4" fill="#000"/>
<rect x="786" y="530" width="3" height="2" fill="#000"/>
<rect x="790" y="528" width="1" height="4" fill="#000"/>
<rect x="789" y="528" width="3" height="3" fill="#000"/>
<rect x="790" y="529" width="1" height="1" fill="#008000"/>
<rect x="793" y="526" width="1" height="4" fill="#000"/>
<rect x="792" y="527" width="3" height="3" fill="#000"/>
<rect x="796" y="80" width="1" height="10" fill="#000"/>
<rect x="795" y="81" width="3" height="6" fill="#000"/>
<rect x="796" y="82" width="1" height="4" fill="#008000"/>
<rect x="799" y="79" width="1" height="6" fill="#000"/>
<rect x="798" y="81" width="3" height="2" fill="#000"/>
<rect x="802" y="76" width="1" height="6" fill="#000"/>
<rect x="801" y="78" width="3" height="3" fill="#000"/>
<rect x="802" y="79" width="1" height="1" fill="#008000"/>
<rect x="805" y="78" width="1" height="9" fill="#000"/>
<rect x="804" y="78" width="3" height="9" fill="#000"/>
<rect x="805" y="79" width="1" height="7" fill="#ff0000"/>
<rect x="808" y="86" width="1" height="8" fill="#000"/>
<rect x="807" y="86" width="3" height="7" fill="#000"/>
<rect x="808" y="87" width="1" height="5" fill="#ff0000"/>
<rect x="40" y="30" width="771" height="1" fill="#888"/>
<rect x="40" y="580" width="771" height="1" fill="#888"/>
<rect x="40" y="30" width="1" height="551" fill="#888"/>
<rect x="810" y="30" width="1" height="551" fill="#888"/>
<rect x="806" y="580" width="4" height="1" fill="#000"/>
<text x="814" y="584" class="ax">3800</text>
<rect x="806" y="554" width="4" height="1" fill="#000"/>
<text x="814" y="558" class="ax">4000</text>
<rect x="806" y="528" width="4" height="1" fill="#000"/>
<text x="814" y="532" class="ax">4200</text>
<rect x="806" y="502" width="4" height="1" fill="#000"/>
<text x="814" y="506" class="ax">4400</text>
<rect x="806" y="476" width="4" height="1" fill="#000"/>
<text x="814" y="480" class="ax">4600</text>
<rect x="806" y="450" width="4" height="1" fill="#000"/>
<text x="814" y="454" class="ax">4800</text>
<rect x="806" y="423" width="4" height="1" fill="#000"/>
<text x="814" y="427" class="ax">5000</text>
<rect x="806" y="397" width="4" height="1" fill="#000"/>
<text x="814" y="401" class="ax">5200</text>
<rect x="806" y="371" width="4" height="1" fill="#000"/>
<text x="814" y="375" class="ax">5400</text>
<rect x="806" y="345" width="4" height="1" fill="#000"/>
<text x="814" y="349" class="ax">5600</text>
<rect x="806" y="319" width="4" height="1" fill="#000"/>
<text x="814" y="323" class="ax">5800</text>
<rect x="806" y="293" width="4" height="1" fill="#000"/>
<text x="814" y="297" class="ax">6000</text>
<rect x="806" y="267" width="4" height="1" fill="#000"/>
<text x="814" y="271" class="ax">6200</text>
<rect x="806" y="241" width="4" height="1" fill="#000"/>
<text x="814" y="245" class="ax">6400</text>
<rect x="806" y="215" width="4" height="1" fill="#000"/>
<text x="814" y="219" class="ax">6600</text>
<rect x="806" y="188" width="4" height="1" fill="#000"/>
<text x="814" y="192" class="ax">6800</text>
<rect x="806" y="162" width="4" height="1" fill="#000"/>
<text x="814" y="166" class="ax">7000</text>
<rect x="806" y="136" width="4" height="1" fill="#000"/>
<text x="814" y="140" class="ax">7200</text>
<rect x="806" y="110" width="4" height="1" fill="#000"/>
<text x="814" y="114" class="ax">7400</text>
<rect x="806" y="84" width="4" height="1" fill="#000"/>
<text x="814" y="88" class="ax">7600</text>
<rect x="806" y="58" width="4" height="1" fill="#000"/>
<text x="814" y="62" class="ax">7800</text>
<rect x="42" y="581" width="1" height="2" fill="#000"/>
<text x="42.5" y="594" class="axb" text-anchor="middle">Jan 19</text>
<rect x="108" y="581" width="1" height="2" fill="#000"/>
<text x="108.5" y="594" class="ax" text-anchor="middle">Feb</text>
<rect x="169" y="581" width="1" height="2" fill="#000"/>
<text x="169.5" y="594" class="ax" text-anchor="middle">Mar</text>
<rect x="232" y="581" width="1" height="2" fill="#000"/>
<text x="232.5" y="594" class="ax" text-anchor="middle">Apr</text>
<rect x="293" y="581" width="1" height="2" fill="#000"/>
<text x="293.5" y="594" class="ax" text-anchor="middle">May</text>
<rect x="357" y="581" width="1" height="2" fill="#000"/>
<text x="357.5" y="594" class="ax" text-anchor="middle">Jun</text>
<rect x="417" y="581" width="1" height="2" fill="#000"/>
<text x="417.5" y="594" class="ax" text-anchor="middle">Jul</text>
<rect x="487" y="581" width="1" height="2" fill="#000"/>
<text x="487.5" y="594" class="ax" text-anchor="middle">Aug</text>
<rect x="554" y="581" width="1" height="2" fill="#000"/>
<text x="554.5" y="594" class="ax" text-anchor="middle">Sep</text>
<rect x="618" y="581" width="1" height="2" fill="#000"/>
<text x="618.5" y="594" class="ax" text-anchor="middle">Oct</text>
<rect x="687" y="581" width="1" height="2" fill="#000"/>
<text x="687.5" y="594" class="ax" text-anchor="middle">Nov</text>
<rect x="751" y="581" width="1" height="2" fill="#000"/>
<text x="751.5" y="594" class="ax" text-anchor="middle">Dec</text>
<rect x="45.5" y="34.5" width="7" height="7" fill="#ff0000" stroke="#000" stroke-width="1"/>
<text x="57" y="42" class="hd">Op:7587, Hi:7587, Lo:7532, Cl:7542</text>
<text transform="translate(40.5,26) scale(1,1.1)" class="title">FTSE 100 - Daily 2019</text>
<text x="812" y="26" class="cr" text-anchor="end">world gold charts @ www.goldchartsrus.com</text></svg>
</body></html>
